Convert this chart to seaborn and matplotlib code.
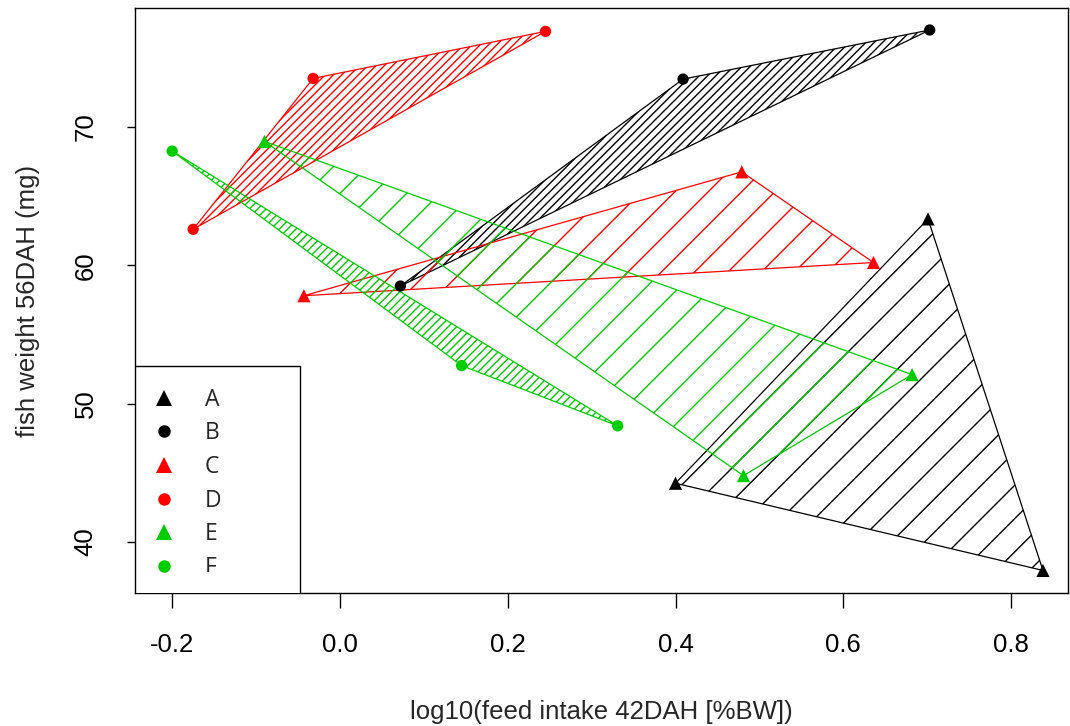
#!/usr/bin/env python3
import numpy as np
import pandas as pd
import seaborn as sns
import matplotlib
matplotlib.use("Agg")
from matplotlib import pyplot as plt
from matplotlib.lines import Line2D
from matplotlib.text import Text
from matplotlib.transforms import Bbox, TransformedBbox

# groups: triangles (A, C, E) and circles (B, D, F)
groups = ["A", "B", "C", "D", "E", "F"]
colors = ["black", "black", "#FF0000", "#FF0000", "#00CD00", "#00CD00"]
markers = ["^", "o", "^", "o", "^", "o"]
hatches = ["/", "////", "/", "////", "/", "////"]

x_A = [0.400, 0.701, 0.838]
y_A = [44.25, 63.35, 37.95]
x_B = [0.072, 0.409, 0.703]
y_B = [58.5, 73.45, 77.0]
x_C = [-0.043, 0.479, 0.636]
y_C = [57.8, 66.75, 60.2]
x_D = [-0.175, -0.032, 0.245]
y_D = [62.6, 73.5, 76.9]
x_E = [-0.090, 0.682, 0.481]
y_E = [68.95, 52.1, 44.8]
x_F = [-0.200, 0.145, 0.331]
y_F = [68.25, 52.75, 48.4]

xs = [x_A, x_B, x_C, x_D, x_E, x_F]
ys = [y_A, y_B, y_C, y_D, y_E, y_F]

x_ticks = [-0.2, 0.0, 0.2, 0.4, 0.6, 0.8]
y_ticks = [40, 50, 60, 70]

df = pd.concat(
    [pd.DataFrame({"x": x, "y": y, "group": g, "marker": m})
     for g, x, y, m in zip(groups, xs, ys, markers)],
    ignore_index=True,
)

sns.set_theme(style="white")
plt.rcParams["font.family"] = ["Liberation Sans", "DejaVu Sans"]
plt.rcParams["hatch.linewidth"] = 1.0

fig = plt.figure(figsize=(10.7, 7.26), dpi=100)
ax = fig.add_axes([0.1262, 0.1832, 0.8718, 0.8058])

for g, col, hatch in zip(groups, colors, hatches):
    sub = df[df["group"] == g]
    ax.fill(sub["x"], sub["y"], facecolor="none", edgecolor=col,
            hatch=hatch, linewidth=0.9, zorder=2)

palette = dict(zip(groups, colors))
marker_map = dict(zip(groups, markers))
for m, size in [("^", 90), ("o", 66)]:
    sub = df[df["marker"] == m]
    sns.scatterplot(
        data=sub, x="x", y="y", hue="group", style="group",
        palette={g: palette[g] for g in sub["group"].unique()},
        markers={g: marker_map[g] for g in sub["group"].unique()},
        s=size, linewidth=0, legend=False, ax=ax, zorder=3,
    )

ax.set_xlim(-0.2443, 0.8677)
ax.set_ylim(36.32, 78.59)
ax.set_xticks(x_ticks)
ax.set_xticklabels([f"{t:.1f}" for t in x_ticks])
ax.set_yticks(y_ticks)
ax.set_yticklabels([str(t) for t in y_ticks], rotation=90, va="center")

for side in ax.spines.values():
    side.set_color("black")
    side.set_linewidth(1.0)

ax.tick_params(axis="x", direction="out", length=11, width=1.0, pad=18,
               labelsize=18.5, colors="black", bottom=True)
ax.tick_params(axis="y", direction="out", length=6, width=1.0, pad=21,
               labelsize=18.5, colors="black", left=True)

ax.set_xlabel("log10(feed intake 42DAH [%BW])", fontsize=18.5, labelpad=31)
ax.set_ylabel("fish weight 56DAH (mg)", fontsize=18.5, labelpad=24)

handles = [
    Line2D([], [], linestyle="none", marker=m, color=c,
           markersize=(12 if m == "^" else 9), markeredgewidth=0)
    for m, c in zip(markers, colors)
]
leg = ax.legend(
    handles, groups, loc="upper left", bbox_to_anchor=(0.0, -1.0, 0.177, 1.388),
    mode="expand", borderaxespad=0, frameon=True, fancybox=False,
    edgecolor="black", framealpha=1, borderpad=0.95, handlelength=0.6,
    handletextpad=1.5, labelspacing=0.42,
    prop={"family": "Open Sans", "size": 16.5},
)
leg.get_frame().set_linewidth(1.0)
# legend runs past the bottom of the plot region and gets cut off there
text_clip = TransformedBbox(Bbox([[0.0, 154 / 726], [1.0, 1.0]]), fig.transFigure)
for art in leg.findobj():
    art.set_clip_on(True)
    if isinstance(art, Text):
        art.set_clip_box(text_clip)
    else:
        art.set_clip_box(ax.bbox)

fig.savefig("out.png", dpi=100)
